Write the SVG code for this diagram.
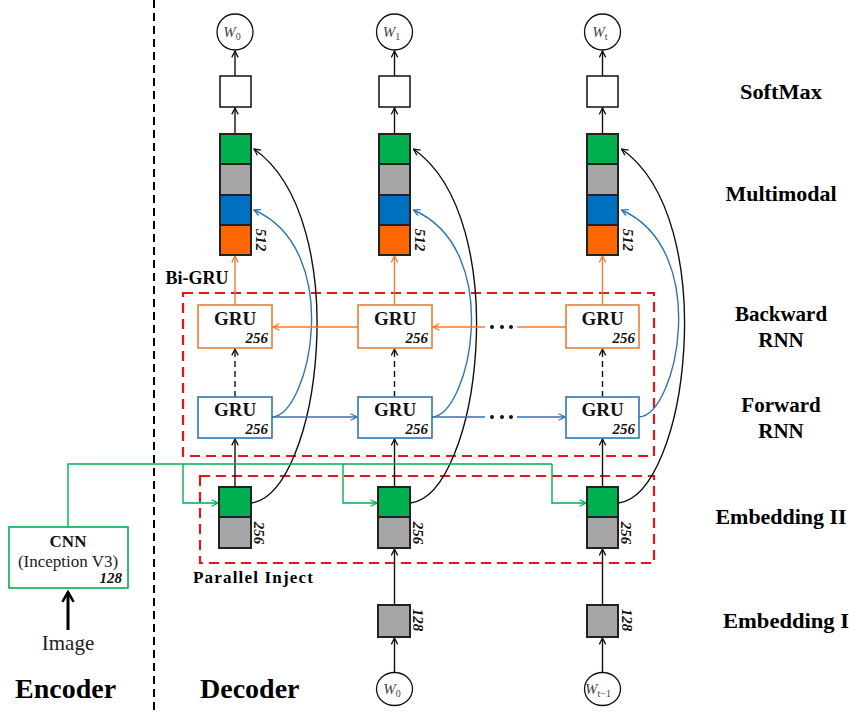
<svg xmlns="http://www.w3.org/2000/svg" width="849" height="714" viewBox="0 0 849 714">
<style>
text{font-family:"Liberation Serif","Times New Roman",Tinos,"DejaVu Serif",serif}
.bg{fill:#fff}
.lbl{font-weight:bold;font-size:21px;fill:#000;text-anchor:middle}
.big{font-weight:bold;font-size:28px;fill:#000}
.gru{font-weight:bold;font-size:19px;fill:#111;text-anchor:middle}
.num{font-weight:bold;font-style:italic;font-size:15px;fill:#111}
.numr{font-weight:bold;font-style:italic;font-size:15px;fill:#111;text-anchor:middle}
.w{font-style:italic;font-size:15px;fill:#444;text-anchor:middle}
.reg{font-size:17px;fill:#222;text-anchor:middle}
.sub{font-size:10px;font-style:normal}
.cell{stroke:#222;stroke-width:2}
.sm{fill:#fff;stroke:#111;stroke-width:1.5}
.circ{fill:#fff;stroke:#111;stroke-width:1.3}
.ogru{fill:#fff;stroke:#ed7d31;stroke-width:1.6}
.bgru{fill:#fff;stroke:#2e75b6;stroke-width:1.6}
.red{fill:none;stroke:#e8131b;stroke-width:2.2;stroke-dasharray:10 6}
.k{fill:none;stroke:#111;stroke-width:1.4}
.kd{fill:none;stroke:#111;stroke-width:1.4;stroke-dasharray:6 4}
.o{fill:none;stroke:#ed7d31;stroke-width:1.4}
.b{fill:none;stroke:#2e75b6;stroke-width:1.4}
.g{fill:none;stroke:#00b050;stroke-width:1.4}
.green{fill:#00b050}.gray{fill:#a6a6a6}.blue{fill:#0070c0}.orange{fill:#ff6600}
</style>
<defs>
<marker id="ak" viewBox="0 0 10 10" refX="9" refY="5" markerWidth="8" markerHeight="8" markerUnits="userSpaceOnUse" orient="auto"><path d="M1,1 L9,5 L1,9" fill="none" stroke="#111" stroke-width="1.6"/></marker>
<marker id="ao" viewBox="0 0 10 10" refX="9" refY="5" markerWidth="8" markerHeight="8" markerUnits="userSpaceOnUse" orient="auto"><path d="M1,1 L9,5 L1,9" fill="none" stroke="#ed7d31" stroke-width="1.6"/></marker>
<marker id="ab" viewBox="0 0 10 10" refX="9" refY="5" markerWidth="8" markerHeight="8" markerUnits="userSpaceOnUse" orient="auto"><path d="M1,1 L9,5 L1,9" fill="none" stroke="#2e75b6" stroke-width="1.6"/></marker>
<marker id="ag" viewBox="0 0 10 10" refX="9" refY="5" markerWidth="8" markerHeight="8" markerUnits="userSpaceOnUse" orient="auto"><path d="M1,1 L9,5 L1,9" fill="none" stroke="#00b050" stroke-width="1.6"/></marker>
<marker id="athick" viewBox="0 0 10 10" refX="8" refY="5" markerWidth="14" markerHeight="14" markerUnits="userSpaceOnUse" orient="auto"><path d="M1,1 L8,5 L1,9" fill="none" stroke="#000" stroke-width="1.8"/></marker>
</defs>
<rect class="bg" x="0" y="0" width="849" height="714"/>

<line x1="154" y1="0" x2="154" y2="714" stroke="#000" stroke-width="2" stroke-dasharray="8 5"/>

<g id="bigru-box">
<rect class="red" x="183" y="293" width="471" height="163"/>
<text class="lbl" x="197" y="284" style="font-size:18px">Bi-GRU</text>
</g>
<g id="inject-box">
<rect class="red" x="200" y="476" width="454" height="87"/>
<text class="lbl" x="193" y="583" style="font-size:17px;text-anchor:start" textLength="120" lengthAdjust="spacing">Parallel Inject</text>
</g>

<g id="connectors">
<line class="k" x1="235" y1="76" x2="235" y2="51" marker-end="url(#ak)"/>
<line class="k" x1="235" y1="134" x2="235" y2="108" marker-end="url(#ak)"/>
<line class="o" x1="235" y1="305" x2="235" y2="256" marker-end="url(#ao)"/>
<line class="kd" x1="235" y1="397" x2="235" y2="349" marker-end="url(#ak)"/>
<line class="k" x1="235" y1="487" x2="235" y2="439" marker-end="url(#ak)"/>
<path class="k" d="M251,503 C320,495 355,220 254,149" marker-end="url(#ak)"/>
<path class="b" d="M272,417 C310,415 345,250 254,210" marker-end="url(#ab)"/>
<line class="k" x1="394.5" y1="76" x2="394.5" y2="51" marker-end="url(#ak)"/>
<line class="k" x1="394.5" y1="134" x2="394.5" y2="108" marker-end="url(#ak)"/>
<line class="o" x1="394.5" y1="305" x2="394.5" y2="256" marker-end="url(#ao)"/>
<line class="kd" x1="394.5" y1="397" x2="394.5" y2="349" marker-end="url(#ak)"/>
<line class="k" x1="394.5" y1="487" x2="394.5" y2="439" marker-end="url(#ak)"/>
<line class="k" x1="394.5" y1="605" x2="394.5" y2="549" marker-end="url(#ak)"/>
<line class="k" x1="394.5" y1="672" x2="394.5" y2="638" marker-end="url(#ak)"/>
<path class="k" d="M410.5,503 C479.5,495 514.5,220 413.5,149" marker-end="url(#ak)"/>
<path class="b" d="M432,417 C470,415 505,250 413.5,210" marker-end="url(#ab)"/>
<line class="k" x1="602.5" y1="76" x2="602.5" y2="51" marker-end="url(#ak)"/>
<line class="k" x1="602.5" y1="134" x2="602.5" y2="108" marker-end="url(#ak)"/>
<line class="o" x1="602.5" y1="305" x2="602.5" y2="256" marker-end="url(#ao)"/>
<line class="kd" x1="602.5" y1="397" x2="602.5" y2="349" marker-end="url(#ak)"/>
<line class="k" x1="602.5" y1="487" x2="602.5" y2="439" marker-end="url(#ak)"/>
<line class="k" x1="602.5" y1="605" x2="602.5" y2="549" marker-end="url(#ak)"/>
<line class="k" x1="602.5" y1="672" x2="602.5" y2="638" marker-end="url(#ak)"/>
<path class="k" d="M618.5,503 C687.5,495 722.5,220 621.5,149" marker-end="url(#ak)"/>
<path class="b" d="M639,417 C677,415 712,250 621.5,210" marker-end="url(#ab)"/>
<line class="o" x1="358" y1="327" x2="273" y2="327" marker-end="url(#ao)"/>
<line class="o" x1="566" y1="327" x2="517" y2="327"/>
<line class="o" x1="485" y1="327" x2="433" y2="327" marker-end="url(#ao)"/>
<line class="b" x1="272" y1="417" x2="357" y2="417" marker-end="url(#ab)"/>
<line class="b" x1="432" y1="417" x2="485" y2="417"/>
<line class="b" x1="517" y1="417" x2="565" y2="417" marker-end="url(#ab)"/>
<g fill="#111">
<circle cx="492" cy="327" r="2"/><circle cx="502" cy="327" r="2"/><circle cx="511" cy="327" r="2"/>
<circle cx="492" cy="417" r="2"/><circle cx="502" cy="417" r="2"/><circle cx="511" cy="417" r="2"/>
</g>
<path class="g" d="M68,527 V464 H552"/>
<path class="g" d="M183,464 V503 H218" marker-end="url(#ag)"/>
<path class="g" d="M343,464 V503 H377" marker-end="url(#ag)"/>
<path class="g" d="M552,464 V503 H586" marker-end="url(#ag)"/>
<line x1="68" y1="630" x2="68" y2="592" stroke="#000" stroke-width="3" marker-end="url(#athick)"/>
</g>

<g id="out-w0"><circle class="circ" cx="235" cy="32" r="18"/><text class="w" x="232" y="37">W<tspan class="sub" dy="3">0</tspan></text></g>
<g id="out-w1"><circle class="circ" cx="394.5" cy="32" r="18"/><text class="w" x="391.5" y="37">W<tspan class="sub" dy="3">1</tspan></text></g>
<g id="out-wt"><circle class="circ" cx="602.5" cy="32" r="18"/><text class="w" x="600" y="37">W<tspan class="sub" dy="3">t</tspan></text></g>

<g id="softmax-1"><rect class="sm" x="220" y="76" width="31" height="31"/></g>
<g id="softmax-2"><rect class="sm" x="379" y="76" width="31" height="31"/></g>
<g id="softmax-3"><rect class="sm" x="587" y="76" width="31" height="31"/></g>

<g id="multimodal-1">
<rect class="cell green" x="220" y="134" width="31" height="30"/>
<rect class="cell gray" x="220" y="164" width="31" height="31"/>
<rect class="cell blue" x="220" y="195" width="31" height="30"/>
<rect class="cell orange" x="220" y="225" width="31" height="30"/>
<text class="numr" transform="translate(256,240) rotate(90)">512</text>
</g>
<g id="multimodal-2">
<rect class="cell green" x="379" y="134" width="31" height="30"/>
<rect class="cell gray" x="379" y="164" width="31" height="31"/>
<rect class="cell blue" x="379" y="195" width="31" height="30"/>
<rect class="cell orange" x="379" y="225" width="31" height="30"/>
<text class="numr" transform="translate(415,240) rotate(90)">512</text>
</g>
<g id="multimodal-3">
<rect class="cell green" x="587" y="134" width="31" height="30"/>
<rect class="cell gray" x="587" y="164" width="31" height="31"/>
<rect class="cell blue" x="587" y="195" width="31" height="30"/>
<rect class="cell orange" x="587" y="225" width="31" height="30"/>
<text class="numr" transform="translate(623,240) rotate(90)">512</text>
</g>

<g id="bgru-1"><rect class="ogru" x="198" y="305" width="74" height="43"/><text class="gru" x="235" y="325">GRU</text><text class="num" x="268" y="343" text-anchor="end">256</text></g>
<g id="bgru-2"><rect class="ogru" x="358" y="305" width="74" height="43"/><text class="gru" x="395" y="325">GRU</text><text class="num" x="428" y="343" text-anchor="end">256</text></g>
<g id="bgru-3"><rect class="ogru" x="566" y="305" width="73" height="43"/><text class="gru" x="602.5" y="325">GRU</text><text class="num" x="635" y="343" text-anchor="end">256</text></g>

<g id="fgru-1"><rect class="bgru" x="198" y="397" width="74" height="41"/><text class="gru" x="235" y="416">GRU</text><text class="num" x="268" y="434" text-anchor="end">256</text></g>
<g id="fgru-2"><rect class="bgru" x="358" y="397" width="74" height="41"/><text class="gru" x="395" y="416">GRU</text><text class="num" x="428" y="434" text-anchor="end">256</text></g>
<g id="fgru-3"><rect class="bgru" x="566" y="397" width="73" height="41"/><text class="gru" x="602.5" y="416">GRU</text><text class="num" x="635" y="434" text-anchor="end">256</text></g>

<g id="emb2-1">
<rect class="cell green" x="219" y="487" width="32" height="30"/>
<rect class="cell gray" x="219" y="517" width="32" height="31"/>
<text class="numr" transform="translate(254,533) rotate(90)">256</text>
</g>
<g id="emb2-2">
<rect class="cell green" x="378" y="487" width="32" height="30"/>
<rect class="cell gray" x="378" y="517" width="32" height="31"/>
<text class="numr" transform="translate(413,533) rotate(90)">256</text>
</g>
<g id="emb2-3">
<rect class="cell green" x="587" y="487" width="31" height="30"/>
<rect class="cell gray" x="587" y="517" width="31" height="31"/>
<text class="numr" transform="translate(621,533) rotate(90)">256</text>
</g>

<g id="emb1-2"><rect class="cell gray" x="378" y="605" width="32" height="32"/><text class="numr" transform="translate(413,620) rotate(90)">128</text></g>
<g id="emb1-3"><rect class="cell gray" x="587" y="605" width="31" height="32"/><text class="numr" transform="translate(622,620) rotate(90)">128</text></g>

<g id="in-w0"><ellipse class="circ" cx="394.5" cy="689" rx="18" ry="16.5"/><text class="w" x="392" y="694">W<tspan class="sub" dy="3">0</tspan></text></g>
<g id="in-wt1"><ellipse class="circ" cx="602.5" cy="689" rx="18" ry="16.5"/><text class="w" x="598" y="694">W<tspan class="sub" dy="3">t−1</tspan></text></g>

<g id="cnn">
<rect x="9" y="527" width="119" height="61" fill="#fff" stroke="#00b050" stroke-width="1.6"/>
<text class="gru" x="68" y="547" style="font-size:17px">CNN</text>
<text class="reg" x="68" y="567">(Inception V3)</text>
<text class="num" x="122" y="583" text-anchor="end">128</text>
</g>
<g id="image"><text class="reg" x="68" y="650" style="font-size:21px">Image</text></g>

<g id="labels">
<text class="lbl" x="781" y="99" textLength="82" lengthAdjust="spacingAndGlyphs">SoftMax</text>
<text class="lbl" x="781" y="201" textLength="111" lengthAdjust="spacingAndGlyphs">Multimodal</text>
<text class="lbl" x="781" y="321">Backward</text>
<text class="lbl" x="781" y="347">RNN</text>
<text class="lbl" x="781" y="412">Forward</text>
<text class="lbl" x="781" y="438">RNN</text>
<text class="lbl" x="781" y="524" textLength="131" lengthAdjust="spacingAndGlyphs">Embedding II</text>
<text class="lbl" x="723" y="628" style="text-anchor:start" textLength="126" lengthAdjust="spacingAndGlyphs">Embedding I</text>
<text class="big" x="15" y="698">Encoder</text>
<text class="big" x="200" y="698">Decoder</text>
</g>
</svg>
